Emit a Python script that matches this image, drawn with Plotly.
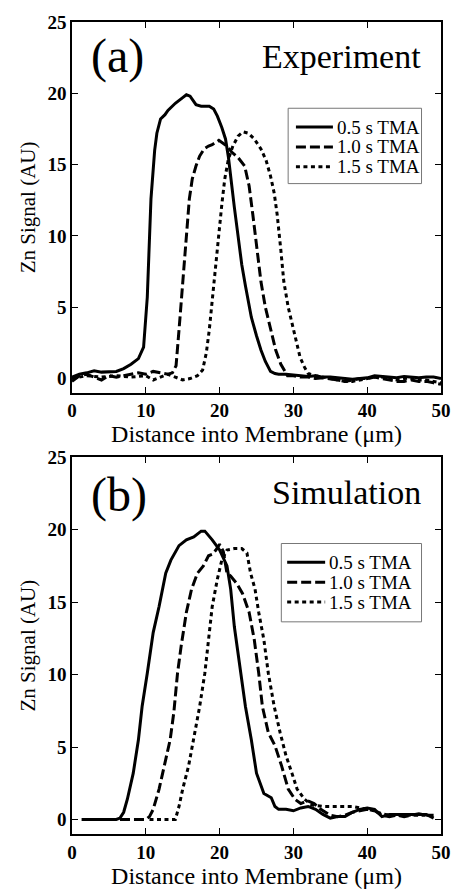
import plotly.graph_objects as go

# ---------------- data ----------------
series_names = ["0.5 s TMA", "1.0 s TMA", "1.5 s TMA"]

# (a) Experiment
exp_x_05 = [0, 1, 2, 3, 4, 5, 6, 7, 8, 9, 9.7, 10.2, 10.7, 11.2, 11.5, 12, 12.6, 13, 14, 15, 15.5, 16, 16.8, 17.5, 18.6, 19.2, 19.7, 20.3, 20.8, 21.2, 21.6, 22, 22.5, 23, 23.5, 24.3, 25, 25.6, 26.2, 26.9, 27.5, 28, 29, 30, 31, 32, 33, 34, 35, 36, 37, 38, 39, 40, 41, 42, 43, 44, 45, 46, 47, 48, 49, 50]
exp_y_05 = [0.1, 0.3, 0.4, 0.55, 0.45, 0.45, 0.5, 0.7, 1.0, 1.4, 2.2, 5.7, 12.6, 16.0, 17.2, 18.2, 18.5, 18.8, 19.3, 19.7, 19.9, 19.8, 19.2, 19.1, 19.1, 18.9, 18.4, 17.6, 16.8, 15.5, 13.5, 12.0, 10.0, 8.0, 6.5, 4.3, 3.0, 2.0, 1.2, 0.5, 0.35, 0.3, 0.3, 0.25, 0.2, 0.15, 0.2, 0.1, 0.1, 0.05, 0.0, -0.05, 0.0, 0.05, 0.2, 0.15, 0.1, 0.05, 0.15, 0.1, 0.05, 0.1, 0.1, 0.0]

exp_x_10 = [0, 1, 2, 3, 4, 5, 6, 7, 8, 9, 10, 11, 12, 13, 13.6, 14.1, 14.5, 15, 15.5, 15.9, 16.3, 16.8, 17.3, 17.9, 18.5, 19, 19.9, 20.5, 21, 21.6, 22.5, 23.4, 24, 24.5, 25, 25.6, 26.2, 26.9, 27.6, 28.3, 29.2, 30, 31, 32, 33, 34, 35, 36, 37, 38, 39, 40, 41, 42, 43, 44, 45, 46, 47, 48, 49, 50]
exp_y_10 = [-0.2, 0.2, 0.3, 0.1, -0.1, 0.2, 0.1, 0.2, 0.3, 0.4, 0.3, 0.5, 0.4, 0.3, 0.4, 0.9, 3.4, 6.8, 10.0, 12.6, 14.0, 14.9, 15.6, 16.1, 16.3, 16.4, 16.7, 16.5, 16.3, 15.9, 15.5, 14.9, 13.5, 11.5, 9.5, 6.8, 5.0, 3.4, 2.0, 1.0, 0.2, 0.2, 0.1, 0.1, 0.0, 0.05, 0.0, -0.1, -0.2, -0.1, 0.0, 0.0, 0.1, 0.0, -0.1, -0.2, -0.2, -0.1, -0.2, -0.2, -0.3, -0.4]

exp_x_15 = [0, 2, 4, 6, 8, 10, 11, 12, 13, 14, 15, 16, 17, 17.7, 18.2, 18.6, 19, 19.4, 19.8, 20.3, 20.7, 21.2, 21.8, 22.5, 23.2, 23.9, 24.7, 25.6, 26.3, 26.9, 27.4, 27.8, 28.3, 28.7, 29.3, 30, 30.5, 30.9, 31.5, 32, 33, 34, 35, 36, 37, 38, 39, 40, 41, 42, 43, 44, 45, 46, 47, 48, 49, 50]
exp_y_15 = [0.0, 0.2, 0.1, 0.2, 0.1, 0.2, -0.1, 0.1, 0.3, 0.1, -0.1, 0.0, 0.2, 0.6, 1.8, 3.4, 5.5, 8.0, 10.0, 12.2, 14.0, 15.4, 16.3, 17.0, 17.3, 17.2, 16.8, 16.1, 15.3, 14.2, 13.0, 11.5, 9.0, 6.8, 5.0, 3.4, 2.3, 1.5, 0.8, 0.35, 0.2, 0.1, 0.0, -0.1, -0.2, -0.2, -0.1, 0.0, 0.1, 0.1, 0.0, -0.1, 0.0, 0.05, -0.1, -0.1, -0.2, -0.3]

# (b) Simulation
sim_x_05 = [1.3, 2, 3, 4, 5, 6, 6.5, 7, 7.5, 8.3, 9, 9.5, 10.2, 11, 11.8, 12.7, 13.4, 14.5, 15.5, 16.5, 17.5, 18, 19, 20, 21, 21.5, 22, 23, 23.5, 24.3, 25, 26, 27, 27.5, 28, 29, 30, 31, 32, 33, 34, 35, 36, 37, 38, 39, 40, 41, 42, 43, 44, 45, 46, 47, 48, 49]
sim_y_05 = [0, 0, 0, 0, 0, 0, 0.1, 0.5, 1.4, 3.2, 5.5, 7.8, 10.1, 12.9, 14.7, 17.0, 17.9, 18.9, 19.3, 19.5, 19.9, 19.9, 19.3, 18.6, 17.5, 15.9, 13.3, 9.7, 7.8, 5.5, 3.2, 1.8, 1.5, 0.9, 0.7, 0.7, 0.6, 0.8, 0.9, 0.7, 0.35, 0.1, 0.2, 0.2, 0.5, 0.7, 0.8, 0.7, 0.2, 0.35, 0.35, 0.35, 0.35, 0.4, 0.35, 0.1]

sim_x_10 = [6.5, 7, 8, 9, 10, 10.5, 11, 11.8, 12.5, 13.3, 13.8, 14.3, 14.8, 15.5, 16.2, 17, 17.8, 18.5, 19, 19.5, 20, 20.5, 21, 21.5, 22.3, 23.1, 24, 24.7, 25.3, 25.8, 26.6, 27.5, 28.4, 29.3, 30.2, 31, 31.9, 32.8, 33.7, 35, 36, 37, 38, 39, 40, 41, 42, 43, 44, 45, 46, 47, 48, 49]
sim_y_10 = [0, 0, 0, 0, 0, 0.2, 0.7, 2.1, 3.7, 5.5, 7.4, 10.1, 12.0, 14.3, 15.9, 17.0, 17.5, 18.2, 18.3, 18.6, 19.0, 18.5, 17.0, 16.8, 16.3, 15.6, 14.3, 12.4, 10.1, 7.8, 6.0, 5.1, 3.7, 2.1, 1.4, 1.1, 1.3, 1.1, 0.7, 0.3, 0.2, 0.3, 0.5, 0.6, 0.7, 0.6, 0.3, 0.2, 0.3, 0.2, 0.3, 0.4, 0.3, 0.3]

sim_x_15 = [10.5, 11, 12, 13, 14, 14.5, 15, 15.8, 16.5, 17.3, 18, 18.5, 19, 19.7, 20.3, 21, 22, 23, 23.7, 24.2, 24.8, 25.3, 26, 26.6, 27.4, 28.2, 29, 29.8, 30.5, 31.5, 32.5, 34, 35, 36, 37, 38, 39, 40, 41, 42, 43, 44, 45, 46, 47, 48]
sim_y_15 = [0, 0, 0, 0, 0, 0.9, 2.1, 3.7, 5.5, 7.8, 10.1, 12.4, 14.7, 16.6, 17.9, 18.6, 18.7, 18.7, 18.4, 17.0, 15.9, 14.3, 12.4, 10.1, 7.8, 6.0, 4.4, 3.2, 2.1, 1.4, 1.0, 0.9, 0.9, 0.9, 0.9, 0.9, 0.8, 0.7, 0.6, 0.4, 0.3, 0.3, 0.3, 0.3, 0.3, 0.3]

x_ticks = [0, 10, 20, 30, 40, 50]
y_ticks = [0, 5, 10, 15, 20, 25]
panel_labels = ["(a)", "(b)"]
panel_titles = ["Experiment", "Simulation"]
x_title = "Distance into Membrane (μm)"
y_title = "Zn Signal (AU)"

# ---------------- figure ----------------
W, H = 462, 890
ML, MR, MT, MB = 72, 11, 22, 49
PW, PH = W - ML - MR, H - MT - MB
SERIF = "Liberation Serif"
dashes = ["solid", "10px,4px", "4px,3.5px"]


def px(xp):
    return (xp - ML) / PW


def py(yp):
    return (H - MB - yp) / PH


fig = go.Figure()
panels = [
    ([exp_x_05, exp_x_10, exp_x_15], [exp_y_05, exp_y_10, exp_y_15], "x", "y"),
    ([sim_x_05, sim_x_10, sim_x_15], [sim_y_05, sim_y_10, sim_y_15], "x2", "y2"),
]
for xs, ys, xa, ya in panels:
    for i in range(3):
        fig.add_trace(go.Scatter(
            x=xs[i], y=ys[i], mode="lines", name=series_names[i],
            line=dict(color="black", width=3, dash=dashes[i]),
            xaxis=xa, yaxis=ya, showlegend=False,
        ))

axis_common = dict(
    showline=True, linecolor="black", linewidth=1.5, mirror="ticks",
    ticks="inside", ticklen=6, tickwidth=1.2, tickcolor="black",
    showgrid=False, zeroline=False,
    tickfont=dict(family=SERIF, size=19, color="black", weight="bold"),
)
xaxis_kw = dict(axis_common, range=[0, 50], tickvals=x_ticks,
                title=dict(text=x_title, font=dict(family=SERIF, size=24, color="black"), standoff=0))
yaxis_kw = dict(axis_common, range=[-1, 25], tickvals=y_ticks,
                title=dict(text=y_title, font=dict(family=SERIF, size=21, color="black"), standoff=6))

annotations = [
    dict(text=panel_labels[0], x=6.2, y=22.6, xref="x", yref="y", showarrow=False,
         font=dict(family=SERIF, size=48, color="black"), xanchor="center", yanchor="middle"),
    dict(text=panel_titles[0], x=47.5, y=22.6, xref="x", yref="y", showarrow=False,
         font=dict(family=SERIF, size=34, color="black"), xanchor="right", yanchor="middle"),
    dict(text=panel_labels[1], x=6.4, y=22.4, xref="x2", yref="y2", showarrow=False,
         font=dict(family=SERIF, size=48, color="black"), xanchor="center", yanchor="middle"),
    dict(text=panel_titles[1], x=47.6, y=22.6, xref="x2", yref="y2", showarrow=False,
         font=dict(family=SERIF, size=34, color="black"), xanchor="right", yanchor="middle"),
]
shapes = []

# custom legends (box, line sample, label) in pixel layout
legend_boxes = [
    dict(x0=294, x1=431, y0=109, y1=185, rows=[128, 148, 168], lx0=302, lx1=340, tx=342),
    dict(x0=287, x1=431, y0=548, y1=627, rows=[567, 587, 607], lx0=293, lx1=332, tx=334),
]
for lb in legend_boxes:
    shapes.append(dict(type="rect", xref="paper", yref="paper",
                       x0=px(lb["x0"]), x1=px(lb["x1"]), y0=py(lb["y1"]), y1=py(lb["y0"]),
                       line=dict(color="#777777", width=1), fillcolor="white", layer="above"))
    for i, ry in enumerate(lb["rows"]):
        shapes.append(dict(type="line", xref="paper", yref="paper",
                           x0=px(lb["lx0"]), x1=px(lb["lx1"]), y0=py(ry), y1=py(ry),
                           line=dict(color="black", width=3, dash=dashes[i]), layer="above"))
        annotations.append(dict(text=series_names[i], xref="paper", yref="paper",
                                x=px(lb["tx"]), y=py(ry), xanchor="left", yanchor="middle",
                                showarrow=False, font=dict(family=SERIF, size=19, color="black")))

fig.update_layout(
    width=W, height=H,
    margin=dict(l=ML, r=MR, t=MT, b=MB),
    paper_bgcolor="white", plot_bgcolor="white",
    showlegend=False,
    xaxis=dict(xaxis_kw, domain=[0, 1], anchor="y"),
    yaxis=dict(yaxis_kw, domain=[py(396), 1], anchor="x"),
    xaxis2=dict(xaxis_kw, domain=[0, 1], anchor="y2"),
    yaxis2=dict(yaxis_kw, domain=[0, py(461)], anchor="x2"),
    annotations=annotations,
    shapes=shapes,
)

fig.write_html("out.html", config={"displayModeBar": False},
               post_script="document.body.style.margin='0';document.body.style.overflow='hidden';")
